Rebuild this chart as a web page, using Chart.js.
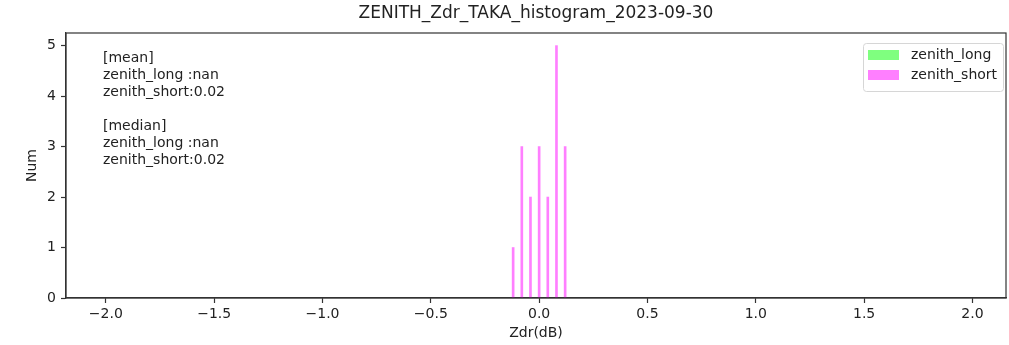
<!DOCTYPE html>
<html>
<head>
<meta charset="utf-8">
<script src="https://cdn.jsdelivr.net/npm/chart.js@4/dist/chart.umd.min.js"></script>
<style>
html,body{margin:0;padding:0;background:#fff;}
#wrap{width:1009px;height:345px;}
</style>
</head>
<body>
<div id="wrap"><canvas id="c" width="1009" height="345"></canvas></div>
<script>
// ---- data ----
const chartTitle = "ZENITH_Zdr_TAKA_histogram_2023-09-30";
const seriesNames = ["zenith_long", "zenith_short"];
const longBins = [];           // zenith_long has no data (nan)
const longCounts = [];
const shortBins = [-0.12, -0.08, -0.04, 0.00, 0.04, 0.08, 0.12];
const shortCounts = [1, 3, 2, 3, 2, 5, 3];
const meanValues = ["nan", "0.02"];
const medianValues = ["nan", "0.02"];
const xTickValues = [-2.0, -1.5, -1.0, -0.5, 0.0, 0.5, 1.0, 1.5, 2.0];
const yTickValues = [0, 1, 2, 3, 4, 5];
const xLabel = "Zdr(dB)";
const yLabel = "Num";

const FONT = "'DejaVu Sans', sans-serif";
const TXT = "#222";
const AX = "#333";
const colors = ["rgba(0,255,0,0.5)", "rgba(255,0,255,0.5)"];

function toPoints(xs, ys){ return xs.map((x,i)=>({x:x, y:ys[i]})); }

const statLines = [
  "[mean]",
  "zenith_long :" + meanValues[0],
  "zenith_short:" + meanValues[1],
  "",
  "[median]",
  "zenith_long :" + medianValues[0],
  "zenith_short:" + medianValues[1]
];

const decor = {
  id: "decor",
  afterDraw(chart){
    const ctx = chart.ctx, a = chart.chartArea;
    ctx.save();
    // spines
    ctx.strokeStyle = AX; ctx.lineWidth = 1.2;
    ctx.strokeRect(a.left, a.top, a.right - a.left, a.bottom - a.top);
    // title
    ctx.fillStyle = TXT;
    ctx.font = "17px " + FONT;
    ctx.textAlign = "center"; ctx.textBaseline = "middle";
    ctx.fillText(chartTitle, (a.left + a.right)/2, 14);
    // stats text
    ctx.font = "14px " + FONT;
    ctx.textAlign = "left";
    statLines.forEach((s,i)=>{ if(s) ctx.fillText(s, 103, 58 + i*17); });
    // legend
    const lx = 863, ly = 43, lw = 140, lh = 48;
    ctx.fillStyle = "rgba(255,255,255,0.8)";
    ctx.strokeStyle = "#d6d6d6"; ctx.lineWidth = 1;
    ctx.beginPath();
    if (ctx.roundRect) ctx.roundRect(lx+0.5, ly+0.5, lw, lh, 3); else ctx.rect(lx+0.5, ly+0.5, lw, lh);
    ctx.fill(); ctx.stroke();
    chart.data.datasets.forEach((ds,i)=>{
      const cy = 55 + i*20;
      ctx.fillStyle = ds.backgroundColor;
      ctx.fillRect(868, cy - 5, 31, 10);
      ctx.fillStyle = TXT;
      ctx.font = "14px " + FONT;
      ctx.textAlign = "left"; ctx.textBaseline = "middle";
      ctx.fillText(ds.label, 911, cy);
    });
    ctx.restore();
  }
};

new Chart(document.getElementById("c"), {
  type: "bar",
  data: {
    datasets: [
      { label: seriesNames[0], data: toPoints(longBins, longCounts), backgroundColor: colors[0], barThickness: 2, grouped: false },
      { label: seriesNames[1], data: toPoints(shortBins, shortCounts), backgroundColor: colors[1], barThickness: 2, grouped: false }
    ]
  },
  options: {
    responsive: false,
    animation: false,
    devicePixelRatio: 1,
    layout: { padding: { top: 33, right: 3, left: 0, bottom: 0 } },
    plugins: { legend: { display: false }, tooltip: { enabled: false }, title: { display: false } },
    scales: {
      x: {
        type: "linear",
        min: -2.184, max: 2.155,
        offset: false,
        afterBuildTicks(s){ s.ticks = xTickValues.map(v=>({value:v})); },
        afterFit(s){ s.height = 47; },
        grid: { display: true, offset: false, drawOnChartArea: false, drawTicks: true, tickLength: 5, color: AX, tickWidth: 1.2 },
        border: { display: true, color: AX, width: 1.2 },
        ticks: {
          padding: 3, color: TXT, font: { family: FONT, size: 14 }, maxRotation: 0, autoSkip: false,
          callback: v => v.toFixed(1).replace("-", "\u2212")
        },
        title: { display: true, text: xLabel, color: TXT, font: { family: FONT, size: 14 }, padding: { top: 0, bottom: 3.6 } }
      },
      y: {
        min: 0, max: 5.25,
        afterBuildTicks(s){ s.ticks = yTickValues.map(v=>({value:v})); },
        afterFit(s){ s.width = 66; },
        grid: { display: true, offset: false, drawOnChartArea: false, drawTicks: true, tickLength: 5, color: AX, tickWidth: 1.2 },
        border: { display: true, color: AX, width: 1.2 },
        ticks: { padding: 5, color: TXT, font: { family: FONT, size: 14 }, callback: v => String(v) },
        title: { display: true, text: yLabel, color: TXT, font: { family: FONT, size: 14 }, padding: { top: 23.6, bottom: 0 } }
      }
    }
  },
  plugins: [decor]
});
</script>
</body>
</html>
